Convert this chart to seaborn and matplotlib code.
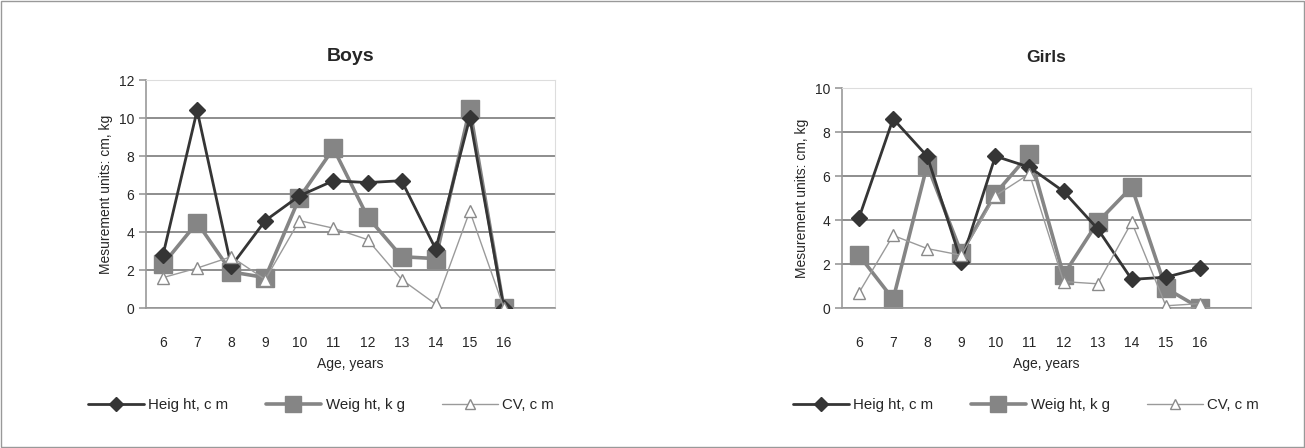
import numpy as np
import pandas as pd
import matplotlib
matplotlib.use("Agg")
import matplotlib.pyplot as plt
import seaborn as sns
from matplotlib.lines import Line2D
from matplotlib.patches import Rectangle

# data
ages = [6, 7, 8, 9, 10, 11, 12, 13, 14, 15, 16]

boys_height = [2.8, 10.4, 2.2, 4.6, 5.9, 6.7, 6.6, 6.7, 3.1, 10.0, 0.0]
boys_weight = [2.3, 4.5, 1.9, 1.6, 5.8, 8.4, 4.8, 2.7, 2.6, 10.5, 0.0]
boys_cv = [1.6, 2.1, 2.7, 1.5, 4.6, 4.2, 3.6, 1.5, 0.2, 5.1, 0.0]

girls_height = [4.1, 8.6, 6.9, 2.1, 6.9, 6.4, 5.3, 3.6, 1.3, 1.4, 1.8]
girls_weight = [2.4, 0.4, 6.5, 2.5, 5.2, 7.0, 1.5, 3.9, 5.5, 0.9, 0.0]
girls_cv = [0.7, 3.3, 2.7, 2.4, 5.1, 6.1, 1.2, 1.1, 3.9, 0.1, 0.2]

series_labels = ["Heig ht, c m", "Weig ht, k g", "CV, c m"]

sns.set_style("white")
plt.rcParams["font.family"] = ["Liberation Sans", "DejaVu Sans"]

styles = [
    dict(color="#353535", lw=2.0, marker="D", ms=8, mfc="#353535", mec="#353535", zorder=3),
    dict(color="#858585", lw=2.6, marker="s", ms=13, mfc="#858585", mec="#858585", zorder=2),
    dict(color="#9a9a9a", lw=1.0, marker="^", ms=9, mfc="white", mec="#8a8a8a", zorder=4),
]


def draw_panel(ax, title, values, ymax, title_pad, legend_x):
    for vals, st in zip(values, styles):
        sns.lineplot(x=ages, y=vals, ax=ax, color=st["color"], linewidth=st["lw"],
                     marker=st["marker"], markersize=st["ms"], markerfacecolor=st["mfc"],
                     markeredgecolor=st["mec"], markeredgewidth=1.0, zorder=st["zorder"])
    ax.set_xlim(5.5, 17.5)
    ax.set_ylim(0, ymax)
    ax.set_yticks(np.arange(0, ymax + 1, 2))
    ax.yaxis.grid(True, color="#7a7a7a", linewidth=1.2)
    ax.set_axisbelow(True)
    ax.set_xticks(ages)
    ax.set_xticks(np.arange(5.5, 18, 1), minor=True)
    ax.tick_params(axis="x", which="major", length=0, pad=20, labelsize=10)
    ax.tick_params(axis="x", which="minor", length=5, color="#999999", width=1.2, direction="out")
    ax.tick_params(axis="y", length=5, color="#999999", width=1.2, labelsize=10, direction="out", left=True)
    for s in ["left", "bottom"]:
        ax.spines[s].set_color("#999999")
        ax.spines[s].set_linewidth(1.2)
    ax.spines["top"].set_color("#dddddd")
    ax.spines["right"].set_color("#dddddd")
    ax.set_title(title, fontsize=title_pad[0], fontweight="bold", pad=title_pad[1])
    ax.set_xlabel("Age, years", fontsize=10, labelpad=5)
    ax.set_ylabel("Mesurement units: cm, kg", fontsize=10, labelpad=4)
    handles = [Line2D([0], [0], color=st["color"], lw=st["lw"], marker=st["marker"],
                      ms=st["ms"] * 0.85, mfc=st["mfc"], mec=st["mec"]) for st in styles]
    fig = ax.figure
    fig.legend(handles, series_labels, loc="center left",
               bbox_to_anchor=(legend_x / 1305, 1 - 405 / 448),
               bbox_transform=fig.transFigure, ncol=3, frameon=False, fontsize=10.8,
               handlelength=3.7, handletextpad=0.3, columnspacing=2.5, borderpad=0,
               borderaxespad=0)


fig = plt.figure(figsize=(13.05, 4.48), dpi=100)
ax1 = fig.add_axes([146 / 1305, 1 - 308 / 448, 409 / 1305, 228 / 448])
ax2 = fig.add_axes([842 / 1305, 1 - 308 / 448, 409 / 1305, 220 / 448])

draw_panel(ax1, "Boys", [boys_height, boys_weight, boys_cv], 12, (14, 14), 88)
draw_panel(ax2, "Girls", [girls_height, girls_weight, girls_cv], 10, (12.5, 19), 793)

fig.patches.append(Rectangle((0.001, 0.002), 0.998, 0.996, transform=fig.transFigure,
                             fill=False, edgecolor="#999999", linewidth=1.0))

fig.savefig("out.png", dpi=100)
